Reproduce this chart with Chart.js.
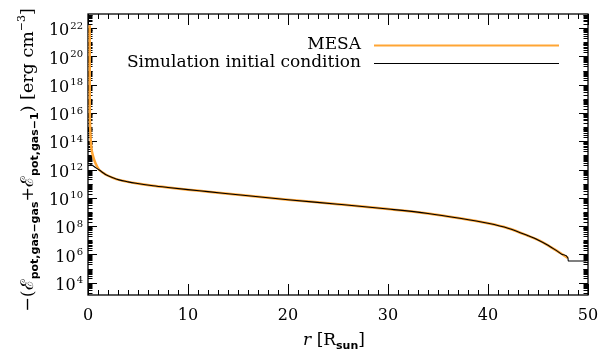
<!DOCTYPE html>
<html>
<head>
<meta charset="utf-8">
<script src="https://cdn.jsdelivr.net/npm/chart.js@4/dist/chart.umd.min.js"></script>
<style>
  html, body { margin: 0; padding: 0; background: #fff; }
  #wrap { width: 616px; height: 354px; }
</style>
</head>
<body>
<div id="wrap"><canvas id="chart" width="616" height="354"></canvas></div>
<script>
// inner part, where the two profiles differ
const rCoreMesa = [0.17, 0.175, 0.18, 0.2, 0.24, 0.3, 0.4, 0.55, 0.75, 1.0];
const eCoreMesa = [1.6e22, 1e19, 3.2e16, 2.5e15, 3.2e14, 6.3e13, 1.8e13, 7.1e12, 2.75e12, 1.26e12];
const rCoreSim = [0, 0.4, 0.8];
const eCoreSim = [2.8e12, 2.1e12, 1.32e12];

// envelope, both curves lie on top of each other
const rEnv = [1.13, 1.5, 1.8, 2.5, 3.1, 4, 4.8, 6.5, 8, 10, 12, 15, 20, 25, 30, 34, 37, 40, 42, 44, 45, 46, 47, 47.5, 48];
const eEnv = [9.3e11, 6e11, 4.3e11, 2.6e11, 1.86e11, 1.35e11, 1.07e11, 7.2e10, 5.4e10, 3.8e10, 2.75e10, 1.66e10, 7.4e9, 3.55e9, 1.62e9, 7.9e8, 3.8e8, 1.58e8, 7.1e7, 2.1e7, 1.05e7, 4.4e6, 1.58e6, 9.5e5, 5.6e5];

// atmosphere floor of the simulation
const rFloor = [48.02, 49.85];
const eFloor = [3.4e5, 3.4e5];

const xTicks = [0, 10, 20, 30, 40, 50];
const yTickExp = [4, 6, 8, 10, 12, 14, 16, 18, 20, 22];
const legendLabels = ['MESA', 'Simulation initial condition'];

const ORANGE = '#ffa534';
const SERIF = '"DejaVu Serif", serif';
const SANS = '"DejaVu Sans", sans-serif';

function toPoints(rs, es) {
    return rs.map((r, i) => ({ x: r, y: es[i] }));
}

const mesaData = toPoints(rCoreMesa, eCoreMesa).concat(toPoints(rEnv, eEnv));
const simData = toPoints(rCoreSim, eCoreSim).concat(toPoints(rEnv, eEnv), toPoints(rFloor, eFloor));

// draw a row of text pieces, each {t, font, dy}
function drawPieces(ctx, pieces, x, y, align) {
    let total = 0;
    pieces.forEach(p => { ctx.font = p.font; p.w = ctx.measureText(p.t).width; total += p.w; });
    let cx = align === 'center' ? x - total / 2 : x;
    pieces.forEach(p => {
        ctx.font = p.font;
        ctx.fillText(p.t, cx, y + (p.dy || 0));
        cx += p.w;
    });
}

// box, ticks and text go under the curves, like in the original plot
const framePlugin = {
    id: 'frame',
    beforeDatasetsDraw(chart) {
        const ctx = chart.ctx;
        const xs = chart.scales.x, ys = chart.scales.y;
        const a = chart.chartArea;
        ctx.save();
        ctx.strokeStyle = '#000';
        ctx.fillStyle = '#000';
        ctx.lineWidth = 1;

        // ticks, inward on all four sides
        ctx.beginPath();
        for (let v = 0; v <= 50; v++) {
            const px = Math.round(xs.getPixelForValue(v)) + 0.5;
            const len = v % 10 === 0 ? 11 : 5;
            ctx.moveTo(px, a.bottom); ctx.lineTo(px, a.bottom - len);
            ctx.moveTo(px, a.top); ctx.lineTo(px, a.top + len);
        }
        for (let k = 3; k <= 22; k++) {
            for (let m = 1; m <= 9; m++) {
                const v = m * Math.pow(10, k);
                if (v < ys.min || v > ys.max) continue;
                const py = Math.round(ys.getPixelForValue(v)) + 0.5;
                const len = (m === 1 && k % 2 === 0) ? 9 : 4.5;
                ctx.moveTo(a.left, py); ctx.lineTo(a.left + len, py);
                ctx.moveTo(a.right, py); ctx.lineTo(a.right - len, py);
            }
        }
        ctx.stroke();

        ctx.lineWidth = 1.3;
        ctx.strokeRect(a.left, a.top, a.right - a.left, a.bottom - a.top);

        // x tick labels
        ctx.textAlign = 'center';
        ctx.textBaseline = 'middle';
        ctx.font = '16px ' + SERIF;
        xTicks.forEach(v => ctx.fillText(String(v), xs.getPixelForValue(v), 316));

        // y tick labels as 10^n
        ctx.textAlign = 'right';
        yTickExp.forEach(e => {
            const py = ys.getPixelForValue(Math.pow(10, e));
            ctx.font = '10px ' + SERIF;
            const es = String(e);
            const ew = ctx.measureText(es).width;
            ctx.fillText(es, 83, py - 2);
            ctx.font = '16px ' + SERIF;
            ctx.fillText('10', 83 - ew - 1, py + 3);
        });

        // x title
        ctx.textAlign = 'left';
        ctx.textBaseline = 'alphabetic';
        drawPieces(ctx, [
            { t: 'r', font: 'italic 17px ' + SERIF },
            { t: ' [R', font: '17px ' + SERIF },
            { t: 'sun', font: 'bold 11px ' + SANS, dy: 4 },
            { t: ']', font: '17px ' + SERIF }
        ], 334, 345, 'center');

        // y title, rotated
        ctx.save();
        ctx.translate(33, 160);
        ctx.rotate(-Math.PI / 2);
        drawPieces(ctx, [
            { t: '−(', font: '17.5px ' + SERIF },
            { t: 'ℰ', font: '17.5px ' + SERIF },
            { t: 'pot,gas−gas', font: 'bold 11px ' + SANS, dy: 5 },
            { t: '+', font: '17.5px ' + SERIF },
            { t: 'ℰ', font: '17.5px ' + SERIF },
            { t: 'pot,gas−1', font: 'bold 11px ' + SANS, dy: 5 },
            { t: ') [erg cm', font: '17.5px ' + SERIF },
            { t: '−3', font: '11px ' + SERIF, dy: -8 },
            { t: ']', font: '17.5px ' + SERIF }
        ], 0, 0, 'center');
        ctx.restore();

        // legend
        ctx.textAlign = 'right';
        ctx.textBaseline = 'middle';
        ctx.font = '17px ' + SERIF;
        const legendColors = [ORANGE, '#000'];
        legendLabels.forEach((lab, i) => {
            const ly = 45 + i * 18;
            ctx.fillStyle = '#000';
            ctx.fillText(lab, 361, ly);
            ctx.strokeStyle = legendColors[i];
            ctx.lineWidth = i === 0 ? 1.8 : 1.2;
            ctx.beginPath();
            ctx.moveTo(374, ly + 0.5); ctx.lineTo(559, ly + 0.5);
            ctx.stroke();
        });
        ctx.restore();
    }
};

new Chart(document.getElementById('chart'), {
    type: 'line',
    data: {
        datasets: [
            {
                label: legendLabels[0],
                data: mesaData,
                borderColor: ORANGE,
                borderWidth: 2.5,
                pointRadius: 0,
                cubicInterpolationMode: 'monotone',
                order: 2
            },
            {
                label: legendLabels[1],
                data: simData,
                borderColor: '#000',
                borderWidth: 1.1,
                pointRadius: 0,
                cubicInterpolationMode: 'monotone',
                order: 1
            }
        ]
    },
    options: {
        responsive: false,
        animation: false,
        devicePixelRatio: 1,
        events: [],
        layout: { padding: { left: 88, right: 28, top: 14, bottom: 59 } },
        scales: {
            x: { type: 'linear', min: 0, max: 50, display: false },
            y: { type: 'logarithmic', min: 1.35e3, max: 1e23, display: false }
        },
        plugins: {
            legend: { display: false },
            tooltip: { enabled: false }
        }
    },
    plugins: [framePlugin]
});
</script>
</body>
</html>
